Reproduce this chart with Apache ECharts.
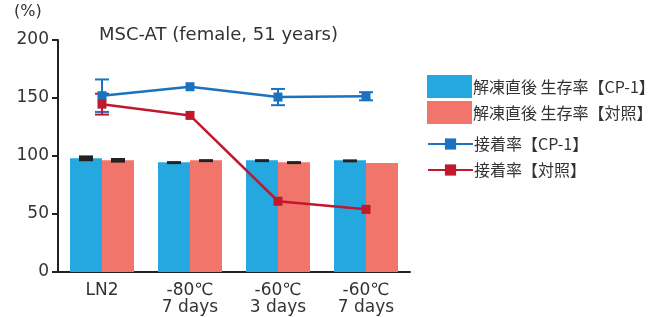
<!DOCTYPE html>
<html>
<head>
<meta charset="utf-8">
<script src="https://cdn.jsdelivr.net/npm/echarts@6/dist/echarts.min.js"></script>
<style>
  html, body { margin: 0; padding: 0; background: #fff; }
  #chart { width: 660px; height: 317px; }
</style>
</head>
<body>
<div id="chart"></div>
<script>
const categories = ['LN2', '-80℃\n7 days', '-60℃\n3 days', '-60℃\n7 days'];
const yTicks = [0, 50, 100, 150, 200];

const survCp1 = [98, 94.6, 96.3, 96.3];
const survCp1Err = [2.5, 1, 1, 0.8];
const survCtrl = [96.3, 96.3, 94.6, 94];
const survCtrlErr = [2, 1, 1, 0];

const adhCp1 = [152, 159.7, 150.8, 151.5];
const adhCp1Err = [14, 0, 7, 3.5];
const adhCtrl = [144.7, 135, 61, 54];
const adhCtrlErr = [9, 0, 0, 0];

const BLUE_BAR = '#25a8e0';
const RED_BAR = '#f2756b';
const BLUE_LINE = '#1a72c0';
const RED_LINE = '#c0182c';
const FONT = '"DejaVu Sans", "Noto Sans CJK JP", sans-serif';
const BAR_W = 32;

// black caps on bars
function barErr(vals, errs, offset) {
  return {
    type: 'custom',
    z: 5,
    data: vals.map((v, i) => [i, v, errs[i]]),
    renderItem: (params, api) => {
      const i = api.value(0), v = api.value(1), e = api.value(2);
      if (!e) return;
      const top = api.coord([i, v + e]);
      const bot = api.coord([i, v - e]);
      const h = Math.max(bot[1] - top[1], 3);
      return {
        type: 'rect',
        shape: { x: top[0] + offset - 7, y: top[1], width: 14, height: h },
        style: { fill: '#222' }
      };
    }
  };
}

// whiskers on lines
function lineErr(vals, errs, color) {
  return {
    type: 'custom',
    z: 4,
    data: vals.map((v, i) => [i, v, errs[i]]),
    renderItem: (params, api) => {
      const i = api.value(0), v = api.value(1), e = api.value(2);
      if (!e) return;
      const top = api.coord([i, v + e]);
      const bot = api.coord([i, v - e]);
      const st = { stroke: color, lineWidth: 2 };
      return {
        type: 'group',
        children: [
          { type: 'line', shape: { x1: top[0], y1: top[1], x2: bot[0], y2: bot[1] }, style: st },
          { type: 'line', shape: { x1: top[0] - 7, y1: top[1], x2: top[0] + 7, y2: top[1] }, style: st },
          { type: 'line', shape: { x1: bot[0] - 7, y1: bot[1], x2: bot[0] + 7, y2: bot[1] }, style: st }
        ]
      };
    }
  };
}

const legendText = { fontSize: 16, color: '#333', fontFamily: '"Noto Sans CJK JP", sans-serif', padding: [0, 0, 0, -4] };

const chart = echarts.init(document.getElementById('chart'));
chart.setOption({
  animation: false,
  textStyle: { fontFamily: FONT },
  title: {
    text: 'MSC-AT (female, 51 years)',
    left: 94, top: 21,
    textStyle: { fontSize: 18, fontWeight: 'normal', color: '#333', fontFamily: FONT }
  },
  graphic: [{
    type: 'text', left: 14, top: 4,
    style: { text: '(%)', fontSize: 16, fill: '#333', fontFamily: FONT }
  }],
  legend: [{
    orient: 'vertical', left: 422, top: 70,
    itemWidth: 45, itemHeight: 23, itemGap: 3,
    icon: 'rect',
    textStyle: legendText,
    data: ['解凍直後 生存率【CP-1】', '解凍直後 生存率【対照】']
  }, {
    orient: 'vertical', left: 422, top: 131,
    itemWidth: 45, itemHeight: 14, itemGap: 10,
    textStyle: legendText,
    data: ['接着率【CP-1】', '接着率【対照】']
  }],
  grid: { left: 58, right: 250, top: 40, bottom: 45 },
  xAxis: {
    type: 'category',
    data: categories,
    axisLine: { lineStyle: { color: '#222', width: 2 } },
    axisTick: { show: false },
    axisLabel: { fontSize: 17, color: '#333', lineHeight: 17, margin: 10 }
  },
  yAxis: {
    type: 'value',
    min: yTicks[0], max: yTicks[yTicks.length - 1], interval: 50,
    splitLine: { show: false },
    axisLine: { show: true, lineStyle: { color: '#222', width: 2 } },
    axisTick: { show: true, length: 6, lineStyle: { color: '#222', width: 2 } },
    axisLabel: { fontSize: 17, color: '#333', margin: 9 }
  },
  series: [
    {
      name: '解凍直後 生存率【CP-1】', type: 'bar', data: survCp1,
      barWidth: BAR_W, barGap: '0%', itemStyle: { color: BLUE_BAR }
    },
    {
      name: '解凍直後 生存率【対照】', type: 'bar', data: survCtrl,
      barWidth: BAR_W, barGap: '0%', itemStyle: { color: RED_BAR }
    },
    barErr(survCp1, survCp1Err, -BAR_W / 2),
    barErr(survCtrl, survCtrlErr, BAR_W / 2),
    {
      name: '接着率【CP-1】', type: 'line', data: adhCp1, z: 6,
      symbol: 'rect', symbolSize: 9,
      lineStyle: { color: BLUE_LINE, width: 2.5 }, itemStyle: { color: BLUE_LINE }
    },
    {
      name: '接着率【対照】', type: 'line', data: adhCtrl, z: 6,
      symbol: 'rect', symbolSize: 9,
      lineStyle: { color: RED_LINE, width: 2.5 }, itemStyle: { color: RED_LINE }
    },
    lineErr(adhCp1, adhCp1Err, BLUE_LINE),
    lineErr(adhCtrl, adhCtrlErr, RED_LINE)
  ]
});
</script>
</body>
</html>
